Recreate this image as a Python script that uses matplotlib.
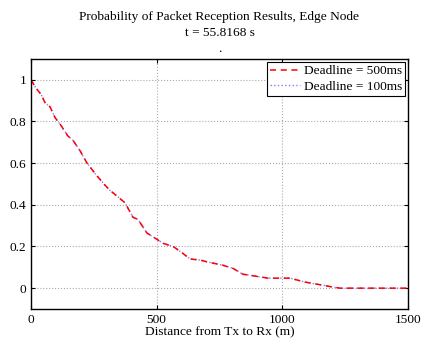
import matplotlib
matplotlib.use('Agg')
import matplotlib.pyplot as plt

plt.rcParams['font.family'] = ['Liberation Serif', 'DejaVu Serif']

dist = [0, 20, 40, 56, 76, 95, 120, 147, 167, 195, 223, 262, 290, 314, 354, 374,
        406, 426, 461, 494, 526, 566, 601, 633, 673, 705, 764, 804, 843, 891,
        943, 1031, 1091, 1162, 1202, 1230, 1300, 1400, 1500]
prob_500 = [1.0, 0.96, 0.93, 0.89, 0.87, 0.82, 0.78, 0.73, 0.71, 0.66, 0.60,
            0.54, 0.50, 0.47, 0.43, 0.41, 0.34, 0.33, 0.265, 0.24, 0.215,
            0.20, 0.17, 0.14, 0.135, 0.125, 0.11, 0.095, 0.067, 0.058, 0.048,
            0.048, 0.029, 0.014, 0.005, 0.0, 0.0, 0.0, 0.0]
prob_100 = list(prob_500)

fs = 9.6
fig = plt.figure(figsize=(4.21, 3.39), dpi=100)
ax = fig.add_axes([0.0736, 0.0885, 0.8954, 0.7375])

ax.plot(dist, prob_100, ':', color='#7f7fff', lw=1.0, label='Deadline = 100ms')
ax.plot(dist, prob_500, '--', color='red', lw=1.1, dashes=(4, 3), label='Deadline = 500ms')

ax.set_xlim(0, 1500)
ax.set_ylim(-0.1, 1.1)
ax.set_xticks([0, 500, 1000, 1500])
ax.set_yticks([0, 0.2, 0.4, 0.6, 0.8, 1])
ax.set_yticklabels(['0', '0.2', '0.4', '0.6', '0.8', '1'])
ax.grid(True, linestyle=':', color='#aaaaaa', lw=0.8)
ax.tick_params(direction='in', top=True, right=True, labelsize=fs, length=3)
for s in ax.spines.values():
    s.set_linewidth(1.0)

ax.set_xlabel('Distance from Tx to Rx (m)', fontsize=fs, labelpad=0)
ax.set_title('Probability of Packet Reception Results, Edge Node\nt = 55.8168 s\n.',
             fontsize=fs, linespacing=1.45, pad=5)

h, l = ax.get_legend_handles_labels()
leg = ax.legend(h[::-1], l[::-1], loc='upper right', fontsize=fs, fancybox=False,
                edgecolor='black', framealpha=1, borderpad=0.25, labelspacing=0.25,
                handlelength=2.2, handletextpad=0.3, borderaxespad=0.2)
leg.get_frame().set_linewidth(0.8)

fig.savefig('out.png', dpi=100)
